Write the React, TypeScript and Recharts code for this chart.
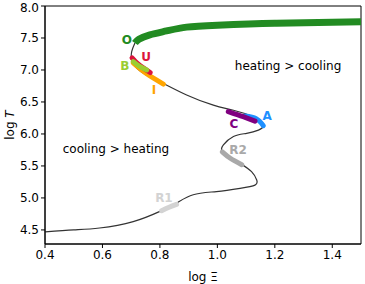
import { LineChart, Line, XAxis, YAxis, ReferenceArea, ReferenceDot } from 'recharts'

// equilibrium S-curve, traced along its path (log Xi, log T)
const curveXi = [0.4, 0.5, 0.59, 0.707, 0.8, 0.858, 0.916, 0.997, 1.079, 1.131, 1.137, 1.119, 1.079, 1.032, 1.015, 1.021, 1.056, 1.102, 1.143, 1.16, 1.155, 1.126, 1.056, 0.986, 0.893, 0.812, 0.754, 0.719, 0.702, 0.702, 0.713]
const curveT = [4.47, 4.5, 4.53, 4.63, 4.79, 4.92, 5.05, 5.1, 5.15, 5.2, 5.28, 5.41, 5.54, 5.67, 5.75, 5.83, 5.96, 6.01, 6.06, 6.12, 6.19, 6.27, 6.37, 6.45, 6.61, 6.79, 6.92, 7.03, 7.16, 7.29, 7.42]

const branchOXi = [0.713, 0.727, 0.765, 0.823, 0.893, 1.0, 1.2, 1.4, 1.5]
const branchOT = [7.42, 7.48, 7.55, 7.61, 7.67, 7.7, 7.73, 7.745, 7.755]

const segUXi = [0.703, 0.725, 0.766]
const segUT = [7.19, 7.09, 6.96]
const segBXi = [0.707, 0.728, 0.754]
const segBT = [7.13, 7.06, 7.0]
const segIXi = [0.707, 0.754, 0.812]
const segIT = [7.11, 6.94, 6.78]
const segCXi = [1.038, 1.09, 1.131]
const segCT = [6.35, 6.27, 6.2]
const segAXi = [1.096, 1.135, 1.16]
const segAT = [6.28, 6.24, 6.13]
const segR2Xi = [1.017, 1.045, 1.085]
const segR2T = [5.72, 5.62, 5.52]
const segR1Xi = [0.806, 0.83, 0.858]
const segR1T = [4.8, 4.85, 4.9]

const xTicks = [0.4, 0.6, 0.8, 1.0, 1.2, 1.4]
const yTicks = [4.5, 5.0, 5.5, 6.0, 6.5, 7.0, 7.5, 8.0]

const labels = [
  { text: 'O', xi: 0.685, t: 7.47, color: '#228b22' },
  { text: 'U', xi: 0.752, t: 7.2, color: '#dc143c' },
  { text: 'B', xi: 0.678, t: 7.06, color: '#9acd32' },
  { text: 'I', xi: 0.779, t: 6.69, color: '#ffa500' },
  { text: 'A', xi: 1.173, t: 6.28, color: '#1e90ff' },
  { text: 'C', xi: 1.058, t: 6.16, color: '#800080' },
  { text: 'R2', xi: 1.072, t: 5.75, color: '#a9a9a9' },
  { text: 'R1', xi: 0.814, t: 5.0, color: '#d3d3d3' },
]

const zip = (xs: number[], ts: number[]) => xs.map((x, i) => ({ x, t: ts[i] }))

const segments = [
  { data: zip(segIXi, segIT), color: '#ffa500' },
  { data: zip(segUXi, segUT), color: '#dc143c' },
  { data: zip(segBXi, segBT), color: '#9acd32' },
  { data: zip(segAXi, segAT), color: '#1e90ff' },
  { data: zip(segCXi, segCT), color: '#800080' },
  { data: zip(segR2Xi, segR2T), color: '#a9a9a9' },
  { data: zip(segR1Xi, segR1T), color: '#d3d3d3' },
]

const font = 'DejaVu Sans, sans-serif'
const tickStyle = { fontSize: 12, fill: '#000', fontFamily: font }

function YLabel({ viewBox }: any) {
  const cy = viewBox.y + viewBox.height / 2
  const x = 14
  return (
    <text
      x={x}
      y={cy}
      transform={`rotate(-90 ${x} ${cy})`}
      textAnchor="middle"
      fontSize={12}
      fontFamily={font}
      fill="#000"
    >
      log <tspan fontStyle="italic">T</tspan>
    </text>
  )
}

export default function App() {
  return (
    <div style={{ position: 'absolute', left: 0, top: 0, fontFamily: font }}>
      <LineChart width={365} height={284} margin={{ top: 6, right: 4, left: 0, bottom: 0 }}>
        <XAxis
          type="number"
          dataKey="x"
          domain={[0.4, 1.5]}
          ticks={xTicks}
          tickFormatter={(v) => v.toFixed(1)}
          tick={tickStyle}
          tickSize={4}
          stroke="#000"
          height={40}
          allowDataOverflow
          label={{ value: 'log Ξ', position: 'insideBottom', offset: 3, fill: '#000', fontSize: 12, fontFamily: font }}
        />
        <YAxis
          type="number"
          dataKey="t"
          domain={[4.28, 8.0]}
          ticks={yTicks}
          tickFormatter={(v) => v.toFixed(1)}
          tick={tickStyle}
          tickSize={4}
          stroke="#000"
          width={45}
          allowDataOverflow
          label={<YLabel />}
        />
        <ReferenceArea x1={0.4} x2={1.5} y1={4.28} y2={8.0} fill="none" stroke="#000" strokeWidth={1} />
        <Line
          data={zip(curveXi, curveT)}
          dataKey="t"
          type="natural"
          stroke="#333"
          strokeWidth={1.2}
          dot={false}
          isAnimationActive={false}
        />
        <Line
          data={zip(branchOXi, branchOT)}
          dataKey="t"
          type="natural"
          stroke="#228b22"
          strokeWidth={7}
          dot={false}
          isAnimationActive={false}
        />
        {segments.map((s, i) => (
          <Line
            key={i}
            data={s.data}
            dataKey="t"
            type="natural"
            stroke={s.color}
            strokeWidth={5}
            strokeLinecap="round"
            dot={false}
            isAnimationActive={false}
          />
        ))}
        {labels.map((l) => (
          <ReferenceDot
            key={l.text}
            x={l.xi}
            y={l.t}
            r={0}
            fill="none"
            stroke="none"
            label={{ value: l.text, position: 'center', fill: l.color, fontSize: 12, fontWeight: 'bold', fontFamily: font }}
          />
        ))}
        <ReferenceDot
          x={1.246}
          y={7.06}
          r={0}
          fill="none"
          stroke="none"
          label={{ value: 'heating > cooling', position: 'center', fill: '#000', fontSize: 12, fontFamily: font }}
        />
        <ReferenceDot
          x={0.647}
          y={5.77}
          r={0}
          fill="none"
          stroke="none"
          label={{ value: 'cooling > heating', position: 'center', fill: '#000', fontSize: 12, fontFamily: font }}
        />
      </LineChart>
    </div>
  )
}
